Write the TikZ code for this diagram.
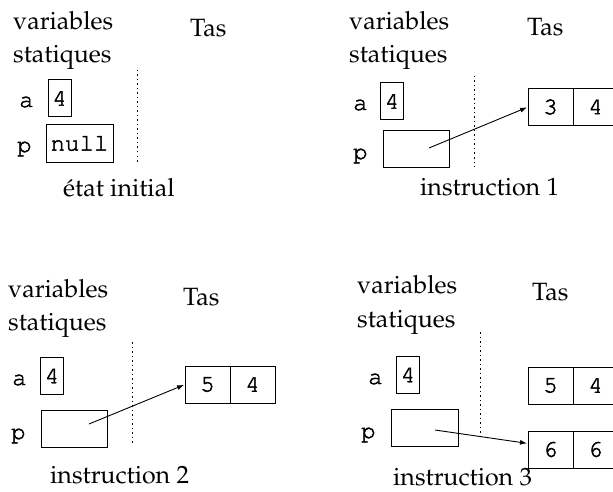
\documentclass[tikz,border=0pt]{standalone}
\usepackage{fontspec}
\newfontfamily\monofont{texgyrecursor-regular.otf}[FakeBold=2]
\usepackage[T1]{fontenc}
\usepackage{mathpazo}
\usetikzlibrary{arrows.meta,positioning}

\tikzset{
	txt/.style={font=\fontsize{25}{30}\selectfont, inner sep=0pt, anchor=base west},
	var/.style={font=\fontsize{24}{28}\selectfont\monofont, inner sep=0pt, anchor=base west},
	box/.style={draw, line width=1pt, outer sep=0pt, inner sep=0pt, minimum height=37pt,
		font=\fontsize{24}{28}\selectfont\monofont},
	cell/.style={box, minimum width=45pt},
	sep/.style={line width=1pt, dash pattern=on 1.5pt off 3pt},
	ptr/.style={-{Latex[length=7pt,width=5pt]}, line width=0.9pt, shorten >=1pt}
}

\begin{document}
\begin{tikzpicture}[x=1pt, y=-1pt]
	\useasboundingbox (0,0) rectangle (613,492);

% etat initial
	\node[txt] (var1) at (13,30) {variables};
	\node[txt] (sta1) at (13,63) {statiques};
	\node[txt] (tas1) at (190,37) {Tas};
	\draw[sep] (137,70) -- (137,162);
	\node[var] (a1) at (19,107) {a};
	\node[box, minimum width=23pt] (va1) at (59.5,98.5) {4};
	\node[var] (p1) at (17,152) {p};
	\node[box, minimum width=67pt] (vp1) at (79.5,143.5) {null};
	\node[txt] (cap1) at (63,196) {état initial};

% instruction 1
	\node[txt] (var2) at (349,30) {variables};
	\node[txt] (sta2) at (349,63) {statiques};
	\node[txt] (tas2) at (527,36) {Tas};
	\draw[sep] (474,76) -- (474,167);
	\node[var] (a2) at (353,110) {a};
	\node[box, minimum width=23pt] (va2) at (392,101.5) {4};
	\node[var] (p2) at (353,159) {p};
	\node[box, minimum width=66pt] (vp2) at (416,149) {};
	\node[cell] (h2a) at (550.5,107) {3};
	\node[cell, right=0pt of h2a] (h2b) {4};
	\coordinate (o2) at (429,148);
	\draw[ptr] (o2) -- (h2a.west);
	\node[txt] (cap2) at (420,195) {instruction 1};

% instruction 2
	\node[txt] (var3) at (8,297) {variables};
	\node[txt] (sta3) at (8,330) {statiques};
	\node[txt] (tas3) at (183,305) {Tas};
	\draw[sep] (132,342) -- (132,443);
	\node[var] (a3) at (12,385) {a};
	\node[box, minimum width=23pt] (va3) at (52,376) {4};
	\node[var] (p3) at (11,439) {p};
	\node[box, minimum width=66pt] (vp3) at (74,429) {};
	\node[cell] (h3a) at (207.5,384.5) {5};
	\node[cell, right=0pt of h3a] (h3b) {4};
	\coordinate (o3) at (89,424);
	\draw[ptr] (o3) -- (h3a.west);
	\node[txt] (cap3) at (50,483) {instruction 2};

% instruction 3
	\node[txt] (var4) at (357,293) {variables};
	\node[txt] (sta4) at (357,327) {statiques};
	\node[txt] (tas4) at (532,300) {Tas};
	\draw[sep] (480,332) -- (480,438);
	\node[var] (a4) at (368,384) {a};
	\node[box, minimum width=23pt] (va4) at (408,375) {4};
	\node[var] (p4) at (361,438) {p};
	\node[box, minimum width=67pt] (vp4) at (424.5,427.5) {};
	\node[cell] (h4a) at (550.5,385.5) {5};
	\node[cell, right=0pt of h4a] (h4b) {4};
	\node[cell] (h4c) at (550.5,449.5) {6};
	\node[cell, right=0pt of h4c] (h4d) {6};
	\coordinate (o4) at (435,430);
	\draw[ptr] (o4) -- (h4c.165);
	\node[txt] (cap4) at (393,485) {instruction 3};
\end{tikzpicture}
\end{document}
